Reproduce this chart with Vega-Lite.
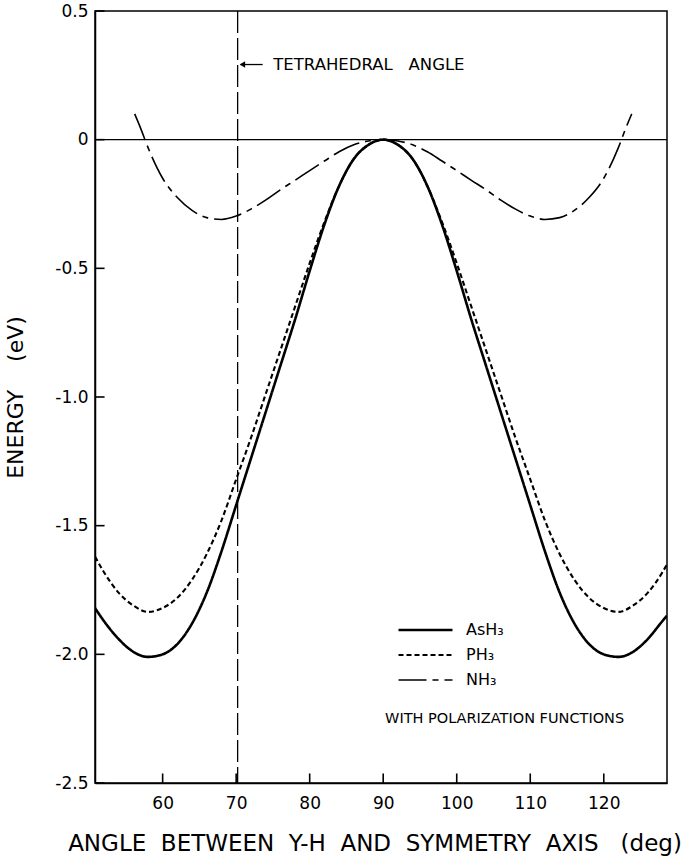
{
  "$schema": "https://vega.github.io/schema/vega-lite/v6.json",
  "width": 572,
  "height": 772,
  "autosize": {"type": "none"},
  "padding": {"left": 95, "top": 11, "right": 18, "bottom": 74},
  "background": "white",
  "config": {
    "view": {"stroke": "black", "strokeWidth": 1.5},
    "font": "DejaVu Sans",
    "axis": {
      "grid": false,
      "ticks": false,
      "domainColor": "black",
      "domainWidth": 1.5,
      "labelColor": "black",
      "titleColor": "black",
      "labelFont": "DejaVu Sans",
      "titleFont": "DejaVu Sans",
      "titleFontWeight": "normal"
    }
  },
  "datasets": {
    "curves": [
      {"molecule": "AsH₃", "angle": 50.8, "energy": -1.82},
      {"molecule": "AsH₃", "angle": 52, "energy": -1.87},
      {"molecule": "AsH₃", "angle": 54, "energy": -1.94},
      {"molecule": "AsH₃", "angle": 56, "energy": -1.99},
      {"molecule": "AsH₃", "angle": 58, "energy": -2.01},
      {"molecule": "AsH₃", "angle": 60, "energy": -2.0},
      {"molecule": "AsH₃", "angle": 62, "energy": -1.96},
      {"molecule": "AsH₃", "angle": 64, "energy": -1.88},
      {"molecule": "AsH₃", "angle": 66, "energy": -1.76},
      {"molecule": "AsH₃", "angle": 68, "energy": -1.6},
      {"molecule": "AsH₃", "angle": 70, "energy": -1.42},
      {"molecule": "AsH₃", "angle": 72, "energy": -1.24},
      {"molecule": "AsH₃", "angle": 74, "energy": -1.06},
      {"molecule": "AsH₃", "angle": 76, "energy": -0.88},
      {"molecule": "AsH₃", "angle": 78, "energy": -0.7},
      {"molecule": "AsH₃", "angle": 80, "energy": -0.51},
      {"molecule": "AsH₃", "angle": 82, "energy": -0.33},
      {"molecule": "AsH₃", "angle": 84, "energy": -0.18},
      {"molecule": "AsH₃", "angle": 86, "energy": -0.075},
      {"molecule": "AsH₃", "angle": 88, "energy": -0.02},
      {"molecule": "AsH₃", "angle": 90, "energy": 0},
      {"molecule": "AsH₃", "angle": 92, "energy": -0.02},
      {"molecule": "AsH₃", "angle": 94, "energy": -0.075},
      {"molecule": "AsH₃", "angle": 96, "energy": -0.18},
      {"molecule": "AsH₃", "angle": 98, "energy": -0.33},
      {"molecule": "AsH₃", "angle": 100, "energy": -0.51},
      {"molecule": "AsH₃", "angle": 102, "energy": -0.7},
      {"molecule": "AsH₃", "angle": 104, "energy": -0.88},
      {"molecule": "AsH₃", "angle": 106, "energy": -1.06},
      {"molecule": "AsH₃", "angle": 108, "energy": -1.24},
      {"molecule": "AsH₃", "angle": 110, "energy": -1.42},
      {"molecule": "AsH₃", "angle": 112, "energy": -1.6},
      {"molecule": "AsH₃", "angle": 114, "energy": -1.76},
      {"molecule": "AsH₃", "angle": 116, "energy": -1.88},
      {"molecule": "AsH₃", "angle": 118, "energy": -1.96},
      {"molecule": "AsH₃", "angle": 120, "energy": -2.0},
      {"molecule": "AsH₃", "angle": 122, "energy": -2.01},
      {"molecule": "AsH₃", "angle": 124, "energy": -1.99},
      {"molecule": "AsH₃", "angle": 126, "energy": -1.94},
      {"molecule": "AsH₃", "angle": 128, "energy": -1.87},
      {"molecule": "AsH₃", "angle": 128.6, "energy": -1.85},
      {"molecule": "PH₃", "angle": 50.8, "energy": -1.62},
      {"molecule": "PH₃", "angle": 52, "energy": -1.68},
      {"molecule": "PH₃", "angle": 54, "energy": -1.76},
      {"molecule": "PH₃", "angle": 56, "energy": -1.81},
      {"molecule": "PH₃", "angle": 58, "energy": -1.835},
      {"molecule": "PH₃", "angle": 60, "energy": -1.82},
      {"molecule": "PH₃", "angle": 62, "energy": -1.78},
      {"molecule": "PH₃", "angle": 64, "energy": -1.71},
      {"molecule": "PH₃", "angle": 66, "energy": -1.61},
      {"molecule": "PH₃", "angle": 68, "energy": -1.48},
      {"molecule": "PH₃", "angle": 70, "energy": -1.32},
      {"molecule": "PH₃", "angle": 72, "energy": -1.16},
      {"molecule": "PH₃", "angle": 74, "energy": -0.99},
      {"molecule": "PH₃", "angle": 76, "energy": -0.82},
      {"molecule": "PH₃", "angle": 78, "energy": -0.65},
      {"molecule": "PH₃", "angle": 80, "energy": -0.48},
      {"molecule": "PH₃", "angle": 82, "energy": -0.32},
      {"molecule": "PH₃", "angle": 84, "energy": -0.18},
      {"molecule": "PH₃", "angle": 86, "energy": -0.075},
      {"molecule": "PH₃", "angle": 88, "energy": -0.02},
      {"molecule": "PH₃", "angle": 90, "energy": 0},
      {"molecule": "PH₃", "angle": 92, "energy": -0.02},
      {"molecule": "PH₃", "angle": 94, "energy": -0.075},
      {"molecule": "PH₃", "angle": 96, "energy": -0.18},
      {"molecule": "PH₃", "angle": 98, "energy": -0.32},
      {"molecule": "PH₃", "angle": 100, "energy": -0.48},
      {"molecule": "PH₃", "angle": 102, "energy": -0.65},
      {"molecule": "PH₃", "angle": 104, "energy": -0.82},
      {"molecule": "PH₃", "angle": 106, "energy": -0.99},
      {"molecule": "PH₃", "angle": 108, "energy": -1.16},
      {"molecule": "PH₃", "angle": 110, "energy": -1.32},
      {"molecule": "PH₃", "angle": 112, "energy": -1.48},
      {"molecule": "PH₃", "angle": 114, "energy": -1.61},
      {"molecule": "PH₃", "angle": 116, "energy": -1.71},
      {"molecule": "PH₃", "angle": 118, "energy": -1.78},
      {"molecule": "PH₃", "angle": 120, "energy": -1.82},
      {"molecule": "PH₃", "angle": 122, "energy": -1.835},
      {"molecule": "PH₃", "angle": 124, "energy": -1.81},
      {"molecule": "PH₃", "angle": 126, "energy": -1.76},
      {"molecule": "PH₃", "angle": 128, "energy": -1.68},
      {"molecule": "PH₃", "angle": 128.6, "energy": -1.65},
      {"molecule": "NH₃", "angle": 56.2, "energy": 0.1},
      {"molecule": "NH₃", "angle": 57, "energy": 0.045},
      {"molecule": "NH₃", "angle": 58, "energy": -0.03},
      {"molecule": "NH₃", "angle": 60, "energy": -0.15},
      {"molecule": "NH₃", "angle": 62, "energy": -0.225},
      {"molecule": "NH₃", "angle": 64, "energy": -0.275},
      {"molecule": "NH₃", "angle": 66, "energy": -0.303},
      {"molecule": "NH₃", "angle": 68, "energy": -0.31},
      {"molecule": "NH₃", "angle": 70, "energy": -0.297},
      {"molecule": "NH₃", "angle": 72, "energy": -0.27},
      {"molecule": "NH₃", "angle": 74, "energy": -0.235},
      {"molecule": "NH₃", "angle": 76, "energy": -0.195},
      {"molecule": "NH₃", "angle": 78, "energy": -0.158},
      {"molecule": "NH₃", "angle": 80, "energy": -0.12},
      {"molecule": "NH₃", "angle": 82, "energy": -0.083},
      {"molecule": "NH₃", "angle": 84, "energy": -0.047},
      {"molecule": "NH₃", "angle": 86, "energy": -0.02},
      {"molecule": "NH₃", "angle": 88, "energy": -0.005},
      {"molecule": "NH₃", "angle": 90, "energy": 0},
      {"molecule": "NH₃", "angle": 92, "energy": -0.005},
      {"molecule": "NH₃", "angle": 94, "energy": -0.02},
      {"molecule": "NH₃", "angle": 96, "energy": -0.047},
      {"molecule": "NH₃", "angle": 98, "energy": -0.083},
      {"molecule": "NH₃", "angle": 100, "energy": -0.12},
      {"molecule": "NH₃", "angle": 102, "energy": -0.158},
      {"molecule": "NH₃", "angle": 104, "energy": -0.195},
      {"molecule": "NH₃", "angle": 106, "energy": -0.235},
      {"molecule": "NH₃", "angle": 108, "energy": -0.27},
      {"molecule": "NH₃", "angle": 110, "energy": -0.297},
      {"molecule": "NH₃", "angle": 112, "energy": -0.31},
      {"molecule": "NH₃", "angle": 114, "energy": -0.303},
      {"molecule": "NH₃", "angle": 116, "energy": -0.275},
      {"molecule": "NH₃", "angle": 118, "energy": -0.225},
      {"molecule": "NH₃", "angle": 120, "energy": -0.15},
      {"molecule": "NH₃", "angle": 122, "energy": -0.03},
      {"molecule": "NH₃", "angle": 123, "energy": 0.045},
      {"molecule": "NH₃", "angle": 123.8, "energy": 0.1}
    ],
    "xticks": [
      {"angle": 60}, {"angle": 70}, {"angle": 80}, {"angle": 90}, {"angle": 100}, {"angle": 110}, {"angle": 120}
    ],
    "yticks": [
      {"energy": -2.5}, {"energy": -2}, {"energy": -1.5}, {"energy": -1}, {"energy": -0.5}, {"energy": 0}, {"energy": 0.5}
    ]
  },
  "layer": [
    {
      "data": {"values": [{}]},
      "mark": {"type": "rule", "color": "black", "strokeWidth": 1.2},
      "encoding": {"y": {"datum": 0, "type": "quantitative"}}
    },
    {
      "data": {"values": [{}]},
      "mark": {"type": "rule", "color": "black", "strokeWidth": 1.3, "strokeDash": [22, 5]},
      "encoding": {"x": {"datum": 70.2, "type": "quantitative"}}
    },
    {
      "data": {"name": "curves"},
      "mark": {"type": "line", "interpolate": "monotone", "clip": true, "color": "black"},
      "encoding": {
        "x": {
          "field": "angle",
          "type": "quantitative",
          "scale": {"domain": [50.8, 128.6], "nice": false, "zero": false},
          "axis": {
            "values": [60, 70, 80, 90, 100, 110, 120],
            "labelPadding": 12,
            "labelFontSize": 17,
            "title": "ANGLE\u00a0\u00a0BETWEEN\u00a0\u00a0Y-H\u00a0\u00a0AND\u00a0\u00a0SYMMETRY\u00a0\u00a0AXIS\u00a0\u00a0\u00a0(deg)",
            "titleFontSize": 23,
            "titleX": 279.5,
            "titleY": 60,
            "titleBaseline": "middle"
          }
        },
        "y": {
          "field": "energy",
          "type": "quantitative",
          "scale": {"domain": [-2.5, 0.5], "nice": false, "zero": false},
          "axis": {
            "values": [-2.5, -2, -1.5, -1, -0.5, 0, 0.5],
            "labelPadding": 7,
            "labelFontSize": 17,
            "labelExpr": "datum.value == 0 ? '0' : (datum.value < 0 ? '-' : '') + format(abs(datum.value), '.1f')",
            "title": "ENERGY\u00a0\u00a0\u00a0\u00a0(eV)",
            "titleFontSize": 22,
            "titleX": -80,
            "titleY": 386,
            "titleAngle": 270,
            "titleBaseline": "middle"
          }
        },
        "strokeDash": {
          "field": "molecule",
          "type": "nominal",
          "scale": {"domain": ["AsH₃", "PH₃", "NH₃"], "range": [[1, 0], [5, 3], [28, 6, 6, 6]]},
          "legend": {
            "title": null,
            "orient": "none",
            "legendX": 302,
            "legendY": 608,
            "symbolType": "stroke",
            "symbolSize": 2916,
            "symbolStrokeWidth": 2,
            "symbolStrokeColor": "black",
            "labelFontSize": 16,
            "labelFont": "DejaVu Sans",
            "labelColor": "black",
            "labelOffset": 12,
            "clipHeight": 22,
            "rowPadding": 3
          }
        },
        "strokeWidth": {
          "field": "molecule",
          "type": "nominal",
          "scale": {"domain": ["AsH₃", "PH₃", "NH₃"], "range": [2.6, 1.6, 2]},
          "legend": null
        }
      }
    },
    {
      "data": {"name": "xticks"},
      "mark": {"type": "rule", "color": "black", "strokeWidth": 1.6},
      "encoding": {
        "x": {"field": "angle", "type": "quantitative"},
        "y": {"datum": -2.5, "type": "quantitative"},
        "y2": {"datum": -2.463}
      }
    },
    {
      "data": {"name": "yticks"},
      "mark": {"type": "rule", "color": "black", "strokeWidth": 1.6},
      "encoding": {
        "x": {"datum": 50.8, "type": "quantitative"},
        "x2": {"datum": 52.1},
        "y": {"field": "energy", "type": "quantitative"}
      }
    },
    {
      "data": {"values": [{}]},
      "mark": {"type": "rule", "color": "black", "strokeWidth": 1.3},
      "encoding": {
        "x": {"datum": 70.6, "type": "quantitative"},
        "x2": {"datum": 73.6},
        "y": {"datum": 0.292, "type": "quantitative"}
      }
    },
    {
      "data": {"values": [{}]},
      "mark": {"type": "point", "shape": "triangle-left", "filled": true, "color": "black", "size": 40, "opacity": 1},
      "encoding": {
        "x": {"datum": 70.85, "type": "quantitative"},
        "y": {"datum": 0.292, "type": "quantitative"}
      }
    },
    {
      "data": {"values": [{}]},
      "mark": {"type": "text", "text": "TETRAHEDRAL\u00a0\u00a0\u00a0ANGLE", "align": "left", "baseline": "middle", "fontSize": 16.5, "font": "DejaVu Sans", "color": "black"},
      "encoding": {
        "x": {"datum": 75.05, "type": "quantitative"},
        "y": {"datum": 0.292, "type": "quantitative"}
      }
    },
    {
      "data": {"values": [{}]},
      "mark": {"type": "text", "text": "WITH POLARIZATION FUNCTIONS", "align": "left", "baseline": "middle", "fontSize": 14.5, "font": "DejaVu Sans", "color": "black"},
      "encoding": {
        "x": {"datum": 90.25, "type": "quantitative"},
        "y": {"datum": -2.25, "type": "quantitative"}
      }
    }
  ]
}
